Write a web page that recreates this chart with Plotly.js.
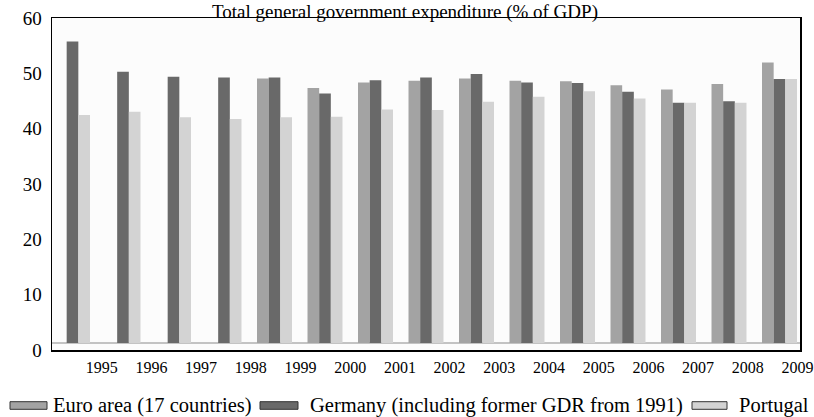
<!DOCTYPE html>
<html>
<head>
<meta charset="utf-8">
<script src="https://cdn.plot.ly/plotly-3.0.1.min.js"></script>
<style>
html,body{margin:0;padding:0;background:#ffffff;}
#chart{width:814px;height:417px;}
</style>
</head>
<body>
<div id="chart"></div>
<script>
// ---- data ----
const years = [1995,1996,1997,1998,1999,2000,2001,2002,2003,2004,2005,2006,2007,2008,2009];
const euroArea = [null,null,null,null,47.8,46.1,47.1,47.4,47.8,47.4,47.3,46.6,45.8,46.8,50.7];
const germany  = [54.5,49.0,48.1,48.0,48.0,45.1,47.5,48.0,48.6,47.1,47.0,45.4,43.4,43.7,47.7];
const portugal = [41.2,41.8,40.8,40.5,40.8,40.9,42.2,42.1,43.6,44.5,45.5,44.2,43.4,43.4,47.7];
const seriesNames = ['Euro area (17 countries)','Germany (including former GDR from 1991)','Portugal'];
const yTicks = [0,10,20,30,40,50,60];
const titleText = 'Total general government expenditure (% of GDP)';

// ---- style ----
const colors = ['#a3a3a3','#696969','#d3d3d3'];
const FONT = 'Liberation Serif';
const W = 814, H = 417;
const M = {l:52, r:14, t:18, b:67};
const plotW = W - M.l - M.r, plotH = H - M.t - M.b;
const px = x => (x - M.l) / plotW;          // pixel -> paper x
const py = y => (H - M.b - y) / plotH;      // pixel -> paper y

const values = [euroArea, germany, portugal];
const traces = [{x:[], y:[], type:'scatter', mode:'markers', xaxis:'x', yaxis:'y', showlegend:false, hoverinfo:'skip'}];
values.forEach((v,i) => {
  traces.push({
    type:'bar', name:seriesNames[i], x:years, y:v,
    xaxis:'x2', yaxis:'y2',
    marker:{color:colors[i], line:{width:0}},
    showlegend:false
  });
});

// custom legend: flat swatches + text
const legendItems = [
  {sx0:10, sx1:47, tx:51},
  {sx0:260, sx1:298, tx:308},
  {sx0:692, sx1:727, tx:737}
];
const legendY = 405.5;
const shapes = [
  // floor line of the 3D-style plot
  {type:'line', xref:'paper', yref:'paper', x0:0, x1:1, y0:py(343), y1:py(343),
   line:{color:'#8a8a8a', width:1}, layer:'below'}
];
const annotations = [];
legendItems.forEach((it,i) => {
  shapes.push({type:'rect', xref:'paper', yref:'paper',
    x0:px(it.sx0), x1:px(it.sx1), y0:py(legendY-3.8), y1:py(legendY+3.8),
    fillcolor:colors[i], line:{color:'#333333', width:1}});
  annotations.push({xref:'paper', yref:'paper', x:px(it.tx), y:py(legendY),
    xanchor:'left', yanchor:'middle', showarrow:false, text:seriesNames[i],
    font:{family:FONT, size:20.5, color:'#000'}});
});

const layout = {
  width:W, height:H,
  margin:{l:M.l, r:M.r, t:M.t, b:M.b, pad:0},
  paper_bgcolor:'#ffffff', plot_bgcolor:'#fcfcfc',
  font:{family:FONT, color:'#000'},
  showlegend:false,
  barmode:'group', bargap:0.307, bargroupgap:0,
  title:{text:titleText, font:{family:FONT, size:19, color:'#000'},
    x:405/W, xref:'container', xanchor:'center',
    y:1-17.5/H, yref:'container', yanchor:'bottom'},
  xaxis:{range:[1994, 2009.05], tickmode:'array', tickvals:years, ticktext:years.map(String),
    ticks:'', showgrid:false, zeroline:false, showline:true, mirror:true,
    linecolor:'#000', linewidth:1.5, ticklabelstandoff:2,
    tickfont:{family:FONT, size:16, color:'#000'}, fixedrange:true},
  yaxis:{range:[0,60], tickmode:'array', tickvals:yTicks, ticks:'',
    showgrid:false, zeroline:false, showline:true, mirror:true,
    linecolor:'#000', linewidth:1.5, ticklabelstandoff:5,
    tickfont:{family:FONT, size:19, color:'#000'}, fixedrange:true},
  xaxis2:{overlaying:'x', range:[1994.594, 2009.406], visible:false, fixedrange:true},
  yaxis2:{overlaying:'y', range:[-1.265, 58.735], visible:false, fixedrange:true},
  shapes:shapes,
  annotations:annotations
};

Plotly.newPlot('chart', traces, layout, {staticPlot:true, displayModeBar:false});
</script>
</body>
</html>
